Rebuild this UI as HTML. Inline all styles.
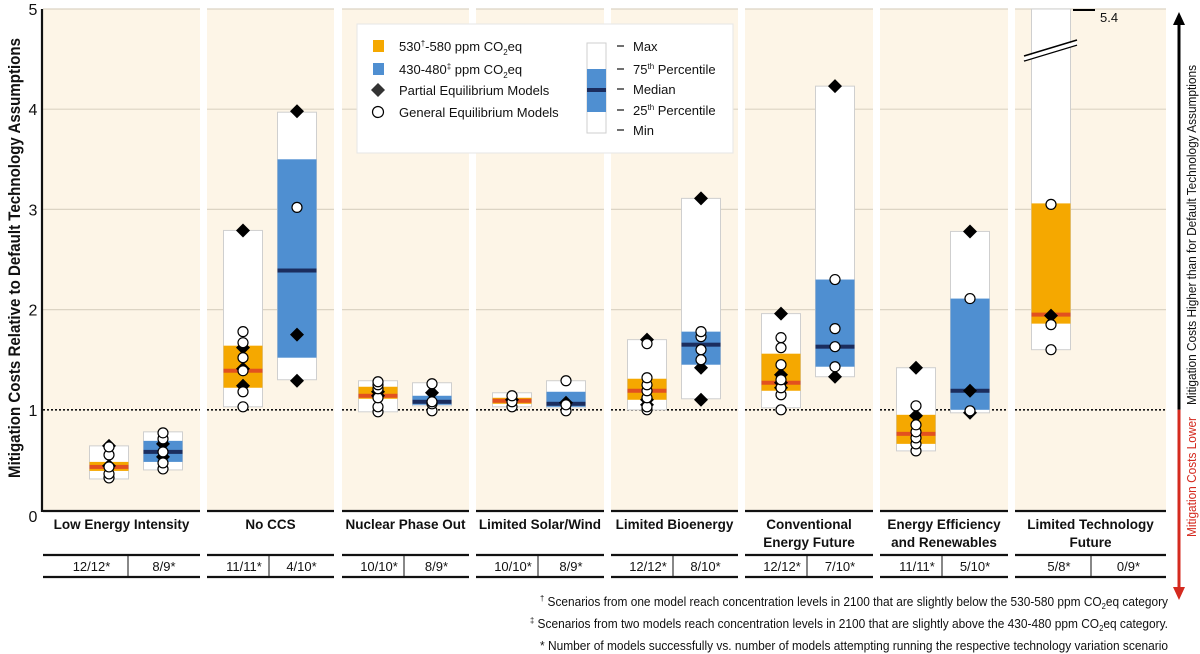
<!DOCTYPE html>
<html><head><meta charset="utf-8"><style>
html,body{margin:0;padding:0;background:#fff;}
svg{display:block;font-family:"Liberation Sans",sans-serif;}
</style></head><body>
<svg id="chart" width="1200" height="654" viewBox="0 0 1200 654">
<g id="bg"></g><g id="grid"></g><g id="marks"></g><g id="axes"></g><g id="legend"></g><g id="notes"></g>
</svg>
<script>
const NS="http://www.w3.org/2000/svg";
// ---- data ----
const categories=["Low Energy Intensity","No CCS","Nuclear Phase Out","Limited Solar/Wind","Limited Bioenergy","Conventional|Energy Future","Energy Efficiency|and Renewables","Limited Technology|Future"];
const counts530=["12/12*","11/11*","10/10*","10/10*","12/12*","12/12*","11/11*","5/8*"];
const counts430=["8/9*","4/10*","8/9*","8/9*","8/10*","7/10*","5/10*","0/9*"];
// [min,q1,median,q3,max] per category (null = no result)
const stats530=[[0.31,0.39,0.43,0.48,0.64],[1.03,1.22,1.39,1.64,2.79],[0.98,1.11,1.14,1.23,1.29],[1.03,1.06,1.09,1.12,1.17],[1.00,1.10,1.19,1.31,1.70],[1.02,1.19,1.27,1.56,1.96],[0.59,0.66,0.76,0.95,1.42],[1.60,1.86,1.95,3.06,5.4]];
const stats430=[[0.40,0.48,0.58,0.69,0.78],[1.30,1.52,2.39,3.50,3.97],[1.04,1.05,1.08,1.14,1.27],[1.02,1.03,1.06,1.18,1.29],[1.11,1.45,1.65,1.78,3.11],[1.33,1.43,1.63,2.30,4.23],[0.97,1.00,1.19,2.11,2.78],null];
const ge530=[[0.32,0.36,0.43,0.55,0.63],[1.03,1.18,1.39,1.52,1.67,1.78],[0.98,1.03,1.12,1.21,1.25,1.28],[1.03,1.08,1.14],[1.00,1.03,1.12,1.19,1.25,1.32,1.66],[1.00,1.15,1.22,1.30,1.45,1.62,1.72],[0.59,0.66,0.72,0.78,0.85,1.04],[1.60,1.85,3.05]];
const pe530=[[0.44,0.64],[1.24,1.41,1.62,2.79],[1.14,1.18],[1.10],[1.05,1.10,1.70],[1.22,1.27,1.35,1.96],[0.94,1.42],[1.94]];
const ge430=[[0.41,0.47,0.58,0.71,0.77],[3.02],[0.99,1.06,1.08,1.26],[0.99,1.05,1.29],[1.50,1.60,1.73,1.78],[1.43,1.63,1.81,2.30],[0.99,2.11],[]];
const pe430=[[0.53,0.66],[1.29,1.75,3.98],[1.17],[1.07],[1.10,1.42,3.11],[1.33,4.23],[0.97,1.19,2.78],[]];
const yTicks=[0,1,2,3,4,5];
// ---- layout ----
const Y0=510,YS=100.2;
const y=v=>Y0-YS*Math.min(v,5);
const panelX=[[43,200],[207,334],[342,469],[476,604],[611,738],[745,873],[880,1008],[1015,1166]];
const cx530=i=>i===0?109:panelX[i][0]+36;
const cx430=i=>i===0?163:panelX[i][0]+90;
function el(t,a,p,txt){const e=document.createElementNS(NS,t);for(const k in a)e.setAttribute(k,a[k]);if(txt!==undefined)e.textContent=txt;document.getElementById(p).appendChild(e);return e;}
// panels
panelX.forEach((p,i)=>{
 const r=el('rect',{x:p[0],y:y(5),width:p[1]-p[0],height:Y0-y(5),fill:'#fdf5e7'},'bg');
 
 
 yTicks.slice(1).forEach(t=>{
  if(t===1)return;
  const g=el('line',{x1:p[0],x2:p[1],y1:y(t),y2:y(t),stroke:'#dcd4c4','stroke-width':1.2},'grid');
  
  
 });
 const d=el('line',{x1:p[0],x2:p[1],y1:y(1),y2:y(1),stroke:'#111','stroke-width':1.6,'stroke-dasharray':'2,2'},'grid');
 
 
 const b=el('line',{x1:p[0],x2:p[1],y1:Y0+1,y2:Y0+1,stroke:'#111','stroke-width':2.2},'axes');
 
 
 const lines=categories[i].split('|');
 const mid=(p[0]+p[1])/2;
 lines.forEach((ln,k)=>{
  const t=el('text',{x:mid,y:529+k*18,'text-anchor':'middle','font-size':13.5,'font-weight':'bold',fill:'#111'},'axes',ln);
  
  
 });
 [555,577].forEach(yy=>{const l=el('line',{x1:p[0],x2:p[1],y1:yy,y2:yy,stroke:'#111','stroke-width':2.2},'axes');
  
  });
 const sep=i===0?128:(i===7?1091:p[0]+62);
 const s=el('line',{x1:sep,x2:sep,y1:555,y2:577,stroke:'#111','stroke-width':1},'axes');
 
 
 const c1=el('text',{x:(p[0]+sep)/2+6,y:571,'text-anchor':'middle','font-size':13,fill:'#111'},'axes',counts530[i]);
 
 
 const c2=el('text',{x:(sep+p[1])/2,y:571,'text-anchor':'middle','font-size':13,fill:'#111'},'axes',counts430[i]);
 
 
});
// y axis
const ax=el('line',{x1:42,x2:42,y1:y(5),y2:Y0+2,stroke:'#111','stroke-width':2.2},'axes');


yTicks.forEach(t=>{const tl=el('text',{x:33,y:y(t)+(t===0?12:6),'text-anchor':'middle','font-size':16,fill:'#111'},'axes',String(t));
 
 });
const yt=el('text',{x:0,y:0,'text-anchor':'middle','font-size':16.5,'font-weight':'bold',fill:'#111',transform:'translate(20,258) rotate(-90)',textLength:440,lengthAdjust:'spacingAndGlyphs'},'axes','Mitigation Costs Relative to Default Technology Assumptions');


// boxes
function box(i,st,cx,fill,medCol,nm){
 if(!st)return;
 const w=39,x0=cx-w/2;
 const top=y(st[4]);
 const r=el('rect',{x:x0,y:top,width:w,height:y(st[0])-top,fill:'#fff',stroke:'#cfcfcf','stroke-width':1},'marks');
 
 
 const q=el('rect',{x:x0,y:y(st[3]),width:w,height:y(st[1])-y(st[3]),fill:fill},'marks');
 
 
 const m=el('rect',{x:x0,y:y(st[2])-2,width:w,height:4,fill:medCol},'marks');
 
 
}
function pts(ge,pe,cx,nm){
 pe.forEach(v=>{const yy=y(v);const d=el('path',{d:`M${cx} ${yy-7}L${cx+7} ${yy}L${cx} ${yy+7}L${cx-7} ${yy}Z`,fill:'#000'},'marks');
  
  });
 ge.forEach(v=>{const c=el('circle',{cx:cx,cy:y(v),r:5,fill:'#fff',stroke:'#000','stroke-width':1.2},'marks');
  
  });
}
categories.forEach((c,i)=>{
 box(i,stats530[i],cx530(i),'#f5a800','#e2511f','530-580');
 box(i,stats430[i],cx430(i),'#4f8fd1','#1b2d5e','430-480');
 pts(ge530[i],pe530[i],cx530(i),'530-580');
 pts(ge430[i],pe430[i],cx430(i),'430-480');
});
const bx=cx530(7);
[[61,45],[56,40]].forEach(a=>{const l=el('line',{x1:bx-27,y1:a[0],x2:bx+26,y2:a[1],stroke:'#000','stroke-width':1.5},'marks');
 
 });
const bw=el('path',{d:`M${bx-27} ${59}L${bx+26} ${43}`,stroke:'#fff','stroke-width':3},'marks');


const mt=el('line',{x1:bx+22,x2:bx+44,y1:10,y2:10,stroke:'#000','stroke-width':2},'marks');


const mv=el('text',{x:bx+49,y:22,'font-size':13,fill:'#111'},'marks','5.4');


// right arrow
const a1=el('line',{x1:1179,x2:1179,y1:22,y2:y(1),stroke:'#000','stroke-width':3},'axes');


const ah=el('path',{d:'M1173 25L1179 12L1185 25Z',fill:'#000'},'axes');


const a2=el('line',{x1:1179,x2:1179,y1:y(1),y2:590,stroke:'#d42a1f','stroke-width':3},'axes');


const ah2=el('path',{d:'M1173 587L1179 600L1185 587Z',fill:'#d42a1f'},'axes');


const rt=el('text',{x:0,y:0,'text-anchor':'middle','font-size':12.5,fill:'#111',transform:'translate(1196,235) rotate(-90)',textLength:340,lengthAdjust:'spacingAndGlyphs'},'axes','Mitigation Costs Higher than for Default Technology Assumptions');


const rl=el('text',{x:0,y:0,'text-anchor':'middle','font-size':12.5,fill:'#d42a1f',transform:'translate(1196,477) rotate(-90)',textLength:120,lengthAdjust:'spacingAndGlyphs'},'axes','Mitigation Costs Lower');


// legend
const lg=el('rect',{x:357,y:24,width:376,height:129,fill:'#fff',stroke:'#e6e6e6'},'legend');


const s1=el('rect',{x:373,y:40,width:11,height:12,fill:'#f5a800'},'legend');


const s2=el('rect',{x:373,y:63,width:11,height:12,fill:'#4f8fd1'},'legend');


const s3=el('path',{d:'M378 83L385 90L378 97L371 90Z',fill:'#333'},'legend');


const s4=el('circle',{cx:378,cy:112,r:5.5,fill:'#fff',stroke:'#000','stroke-width':1.2},'legend');


const L1=el('text',{x:399,y:51,'font-size':13,fill:'#111'},'legend');
L1.innerHTML='530<tspan font-size="8" dy="-5">†</tspan><tspan dy="5">-580 ppm CO</tspan><tspan font-size="8" dy="4">2</tspan><tspan dy="-4">eq</tspan>';


const L2=el('text',{x:399,y:74,'font-size':13,fill:'#111'},'legend');
L2.innerHTML='430-480<tspan font-size="8" dy="-5">‡</tspan><tspan dy="5"> ppm CO</tspan><tspan font-size="8" dy="4">2</tspan><tspan dy="-4">eq</tspan>';


const L3=el('text',{x:399,y:95,'font-size':13,fill:'#111'},'legend','Partial Equilibrium Models');


const L4=el('text',{x:399,y:117,'font-size':13,fill:'#111'},'legend','General Equilibrium Models');


const kb=el('rect',{x:587,y:43,width:19,height:90,fill:'#fff',stroke:'#cfcfcf'},'legend');


const kq=el('rect',{x:587,y:69,width:19,height:43,fill:'#4f8fd1'},'legend');


const km=el('rect',{x:587,y:88,width:19,height:4,fill:'#1b2d5e'},'legend');


[['Max',46],['75th Percentile',69],['Median',89],['25th Percentile',110],['Min',130]].forEach(k=>{
 const dl=el('line',{x1:617,x2:624,y1:k[1],y2:k[1],stroke:'#111','stroke-width':1.2},'legend');
 
 
 const t=el('text',{x:633,y:k[1]+5,'font-size':13,fill:'#111'},'legend');
 if(k[0].includes('th ')){const p=k[0].split('th ');t.innerHTML=p[0]+'<tspan font-size="8" dy="-5">th</tspan><tspan dy="5"> '+p[1]+'</tspan>';}
 else t.textContent=k[0];
 
 
});
// footnotes
const n1=el('text',{x:1168,y:606,'text-anchor':'end','font-size':12.5,fill:'#111',textLength:628,lengthAdjust:'spacingAndGlyphs'},'notes');
n1.innerHTML='<tspan font-size="8" dy="-5">†</tspan><tspan dy="5"> Scenarios from one model reach concentration levels in 2100 that are slightly below the 530-580 ppm CO</tspan><tspan font-size="8" dy="3">2</tspan><tspan dy="-3">eq category</tspan>';


const n2=el('text',{x:1168,y:628,'text-anchor':'end','font-size':12.5,fill:'#111',textLength:638,lengthAdjust:'spacingAndGlyphs'},'notes');
n2.innerHTML='<tspan font-size="8" dy="-5">‡</tspan><tspan dy="5"> Scenarios from two models reach concentration levels in 2100 that are slightly above the 430-480 ppm CO</tspan><tspan font-size="8" dy="3">2</tspan><tspan dy="-3">eq category.</tspan>';


const n3=el('text',{x:1168,y:650,'text-anchor':'end','font-size':12.5,fill:'#111',textLength:628,lengthAdjust:'spacingAndGlyphs'},'notes','* Number of models successfully vs. number of models attempting running the respective technology variation scenario');


</script>
</body></html>
